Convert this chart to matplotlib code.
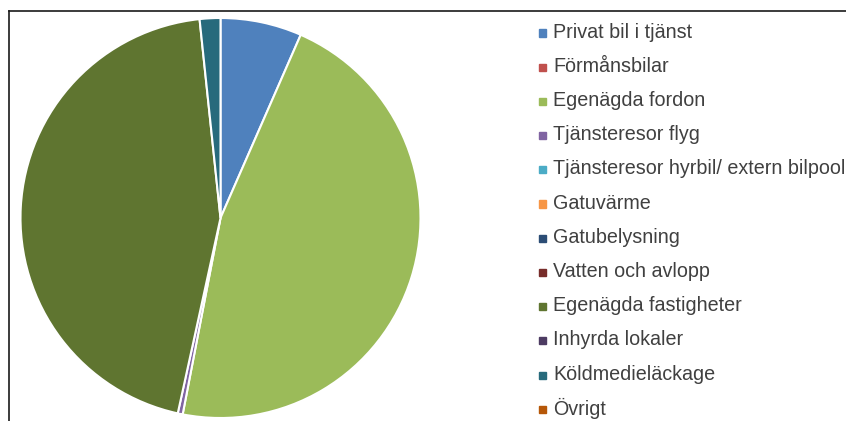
import matplotlib
matplotlib.use("Agg")
import matplotlib.pyplot as plt
from matplotlib.patches import Rectangle
from matplotlib.lines import Line2D

categories = ["Privat bil i tjänst", "Förmånsbilar", "Egenägda fordon", "Tjänsteresor flyg",
              "Tjänsteresor hyrbil/ extern bilpool", "Gatuvärme", "Gatubelysning",
              "Vatten och avlopp", "Egenägda fastigheter", "Inhyrda lokaler",
              "Köldmedieläckage", "Övrigt"]
values = [6.57, 0.0, 46.46, 0.4, 0.0, 0.0, 0.0, 0.0, 44.9, 0.0, 1.67, 0.0]
colors = ["#4F81BD", "#C0504D", "#9BBB59", "#8064A2", "#4BACC6", "#F79646",
          "#2C4D75", "#772C2A", "#5F7530", "#4D3B62", "#276A7C", "#B65708"]

W, H = 846, 421
fig = plt.figure(figsize=(W / 100, H / 100), dpi=100)
fig.patch.set_facecolor("white")

# frame (chart area border, partly cropped)
fig.add_artist(Line2D([9 / W, 1], [1 - 11 / H, 1 - 11 / H], color="#1a1a1a", lw=1.2, transform=fig.transFigure))
fig.add_artist(Line2D([9 / W, 9 / W], [0, 1 - 11 / H], color="#1a1a1a", lw=1.2, transform=fig.transFigure))

cx, cy, r = 220.5, 218.0, 200.0
ax = fig.add_axes([(cx - r) / W, (H - cy - r) / H, 2 * r / W, 2 * r / H])
wedges, _ = ax.pie(values, colors=colors, startangle=90, counterclock=False, radius=1.0,
                   wedgeprops=dict(edgecolor="white", linewidth=1.5))
for w, v in zip(wedges, values):
    if v == 0:
        w.set_visible(False)
ax.set_xlim(-1.0, 1.0)
ax.set_ylim(-1.0, 1.0)
ax.axis("off")

# legend
y0, dy = 32.0, 34.2
for i, (lab, col) in enumerate(zip(categories, colors)):
    y = y0 + i * dy
    fig.add_artist(Rectangle((539 / W, (H - y - 4.5) / H), 7 / W, 7 / H, color=col,
                             transform=fig.transFigure))
    fig.text(553 / W, (H - y) / H, lab, fontsize=14.2, family="Liberation Sans",
             color="#404040", va="center", ha="left")

fig.savefig("out.png", dpi=100)
